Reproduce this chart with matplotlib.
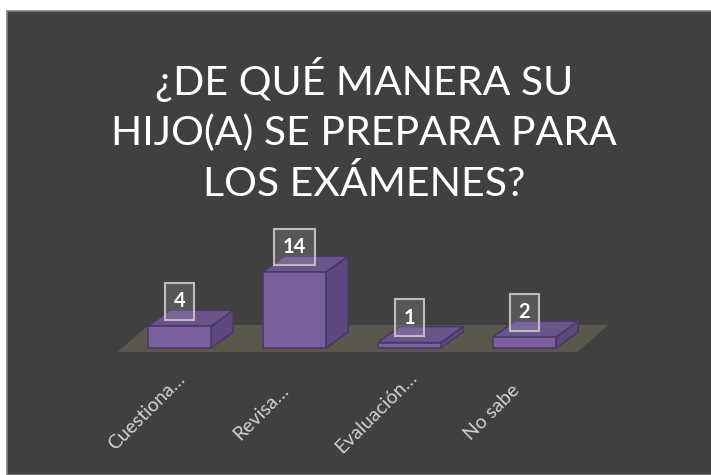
import numpy as np
import matplotlib
matplotlib.use('Agg')
import matplotlib.pyplot as plt
from matplotlib.patches import Polygon, Rectangle

# chart data
categories = ['Cuestiona…', 'Revisa…', 'Evaluación…', 'No sabe']
values = [4, 14, 1, 2]
title = '¿DE QUÉ MANERA SU\nHIJO(A) SE PREPARA PARA\nLOS EXÁMENES?'

plt.rcParams['font.family'] = ['Lato', 'DejaVu Sans']

W, H, DPI = 711, 475, 100
fig = plt.figure(figsize=(W / DPI, H / DPI), dpi=DPI, facecolor='white')

# dark slide background with thin border on the top/left
fig.patches.append(Rectangle((7 / W, 0), 1, (H - 11) / H, transform=fig.transFigure,
                             facecolor='#404040', edgecolor='#808080', lw=1.2, zorder=-1))

ax = fig.add_axes([0, 0, 1, 1])
ax.axis('off')
ax.patch.set_alpha(0)

# map categories/values to the pixel layout of the reference
px_per_cat = 115.0
px_per_unit = 5.43
x_first = 179.5
y_base = 127.0
ax.set_xlim(-x_first / px_per_cat, (W - x_first) / px_per_cat)
ax.set_ylim(-y_base / px_per_unit, (H - y_base) / px_per_unit)

n = len(values)
bw = 0.55
dx, dy = 22 / px_per_cat, 16 / px_per_unit

# floor
fl, fr = -0.54, n - 1 + 0.46
ffront, fback = -0.74, 4.24
fdx = 31 / px_per_cat
ax.add_patch(Polygon([(fl, ffront), (fr, ffront), (fr + fdx, fback), (fl + fdx, fback)],
                     closed=True, facecolor='#5a574d', edgecolor='none', zorder=1))

edge = '#4a3966'
for i, v in enumerate(values):
    x0, x1 = i - bw / 2, i + bw / 2
    side = [(x1, 0), (x1 + dx, dy), (x1 + dx, v + dy), (x1, v)]
    top = [(x0, v), (x1, v), (x1 + dx, v + dy), (x0 + dx, v + dy)]
    front = [(x0, 0), (x1, 0), (x1, v), (x0, v)]
    ax.add_patch(Polygon(side, closed=True, fc='#5d477c', ec=edge, lw=1.2, zorder=2))
    ax.add_patch(Polygon(top, closed=True, fc='#6b538c', ec=edge, lw=1.2, zorder=2))
    ax.add_patch(Polygon(front, closed=True, fc='#7a5f9c', ec=edge, lw=1.2, zorder=3))
    ax.text(i, v + 4.6, str(v), ha='center', va='center', color='white',
            fontsize=14.5, fontweight='bold', zorder=5,
            bbox=dict(boxstyle='square,pad=0.42', fc=(1, 1, 1, 0.12),
                      ec='#bdbdbd', lw=1.5))
    ax.text(i - 33 / px_per_cat, -11.8, categories[i], rotation=45,
            rotation_mode='anchor', ha='center', va='center',
            color='#d2d2d2', fontsize=14, zorder=5)

fig.text(364 / W, 1 - 130 / H, title, ha='center', va='center', color='white',
         fontsize=29.5, linespacing=1.4)

fig.savefig('out.png', dpi=DPI, facecolor=fig.get_facecolor())
